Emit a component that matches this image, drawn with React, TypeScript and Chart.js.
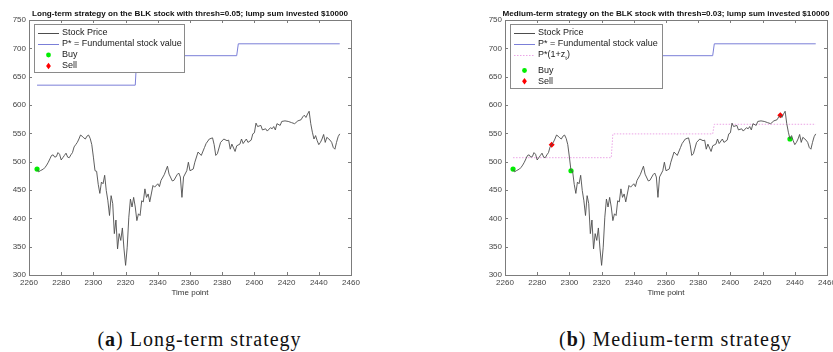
import React, { useEffect, useRef } from 'react';
import { Chart, registerables } from 'chart.js';
Chart.register(...registerables);

// ---------- data ----------
const TIMES = [
  2265, 2266, 2267, 2269, 2270, 2271, 2272, 2273, 2274, 2275, 2276, 2277, 2278, 2279, 2280,
  2281, 2282, 2283, 2284, 2285, 2286, 2287, 2288, 2289, 2290, 2291, 2292, 2293, 2294, 2295,
  2296, 2297, 2298, 2299, 2300, 2301, 2302, 2303, 2304, 2305, 2306, 2307, 2308, 2309, 2310,
  2311, 2312, 2313, 2314, 2315, 2316, 2317, 2318, 2319, 2320, 2321, 2322, 2323, 2324, 2325,
  2326, 2327, 2328, 2329, 2330, 2331, 2332, 2333, 2334, 2335, 2337, 2338, 2340, 2341, 2342,
  2344, 2346, 2347, 2349, 2350, 2352, 2353, 2354, 2355, 2356, 2358, 2359, 2360, 2362, 2363,
  2365, 2367, 2369, 2370, 2372, 2374, 2375, 2376, 2377, 2379, 2381, 2383, 2384, 2385, 2386,
  2388, 2389, 2391, 2392, 2393, 2395, 2396, 2398, 2399, 2400, 2401, 2402, 2404, 2405, 2407,
  2408, 2410, 2411, 2412, 2413, 2414, 2416, 2417, 2419, 2421, 2423, 2425, 2427, 2429, 2430,
  2431, 2432, 2433, 2434, 2435, 2436, 2437, 2438, 2439, 2440, 2441, 2442, 2443, 2444, 2445,
  2447, 2448, 2449, 2450, 2451, 2452, 2453,
];
const PRICES = [
  486, 482, 484, 487, 490, 494, 499, 505, 511, 512, 508, 509, 516, 513, 503,
  507, 511, 515, 508, 507, 512, 516, 526, 530, 534, 540, 547, 545, 542, 540,
  545, 547, 541, 530, 508, 484, 483, 460, 444, 464, 461, 476, 449, 431, 405,
  440, 426, 373, 397, 346, 373, 361, 383, 346, 317, 349, 402, 434, 420, 437,
  420, 396, 408, 405, 431, 429, 452, 437, 443, 429, 458, 455, 461, 456, 467,
  477, 492, 478, 466, 467, 477, 480, 473, 437, 473, 484, 499, 484, 487, 499,
  517, 511, 525, 532, 540, 542, 530, 511, 514, 534, 540, 537, 538, 522, 531,
  518, 528, 531, 540, 532, 540, 534, 538, 549, 551, 568, 562, 564, 556, 558,
  554, 560, 558, 562, 556, 567, 564, 571, 572, 571, 569, 567, 572, 574, 579,
  582, 578, 584, 589, 567, 552, 540, 546, 537, 530, 534, 540, 548, 534, 543,
  538, 534, 525, 522, 534, 544, 549,
];
const FUND_TIMES = [2265, 2326, 2327, 2389, 2390, 2453];
const FUND_VALUES = [635, 635, 687, 687, 708, 708];
const BAND_VALUES = [507, 507, 549, 549, 566, 566];

const LONG_BUY_T = [2265];
const LONG_BUY_V = [487];
const MED_BUY_T = [2265, 2301, 2437];
const MED_BUY_V = [487, 484, 540];
const MED_SELL_T = [2289, 2431];
const MED_SELL_V = [530, 582];

const X_TICKS = [2260, 2280, 2300, 2320, 2340, 2360, 2380, 2400, 2420, 2440, 2460];
const Y_TICKS = [300, 350, 400, 450, 500, 550, 600, 650, 700, 750];

const TITLE_LONG = 'Long-term strategy on the BLK stock with thresh=0.05; lump sum invested $10000';
const TITLE_MED = 'Medium-term strategy on the BLK stock with thresh=0.03; lump sum invested $10000';
const X_LABEL = 'Time point';
const LEGEND_PRICE = 'Stock Price';
const LEGEND_FUND = 'P* = Fundumental stock value';
const LEGEND_BAND = 'P*(1+z';
const LEGEND_BUY = 'Buy';
const LEGEND_SELL = 'Sell';
const CAPTION_A = 'Long-term strategy';
const CAPTION_B = 'Medium-term strategy';

// ---------- styles ----------
const PRICE_COLOR = '#4d4d4d';
const FUND_COLOR = '#7b7fd8';
const BAND_COLOR = '#eba5e6';
const BUY_COLOR = '#00ee00';
const SELL_COLOR = '#ff0000';
const FONT = '"Liberation Sans", Arial, Helvetica, sans-serif';

const pts = (ts: number[], vs: number[]) => ts.map((t, i) => ({ x: t, y: vs[i] }));

type LegendItem = { kind: 'line' | 'dot' | 'diamond' | 'dotted'; color: string; label: string; sub?: string; y: number };

function makeFramePlugin(title: string, legendBox: { x0: number; x1: number; y0: number; y1: number }, items: LegendItem[]) {
  return {
    id: 'frame',
    afterDraw(chart: any) {
      const ctx = chart.ctx as CanvasRenderingContext2D;
      const a = chart.chartArea;
      const xs = chart.scales.x;
      const ys = chart.scales.y;
      ctx.save();
      // box
      ctx.strokeStyle = '#7c7c7c';
      ctx.lineWidth = 1;
      ctx.strokeRect(Math.round(a.left) + 0.5, Math.round(a.top) + 0.5, Math.round(a.right - a.left), Math.round(a.bottom - a.top));
      // inward ticks
      ctx.beginPath();
      X_TICKS.forEach((v) => {
        const px = Math.round(xs.getPixelForValue(v)) + 0.5;
        ctx.moveTo(px, a.bottom);
        ctx.lineTo(px, a.bottom - 3);
        ctx.moveTo(px, a.top);
        ctx.lineTo(px, a.top + 3);
      });
      Y_TICKS.forEach((v) => {
        const py = Math.round(ys.getPixelForValue(v)) + 0.5;
        ctx.moveTo(a.left, py);
        ctx.lineTo(a.left + 3, py);
        ctx.moveTo(a.right, py);
        ctx.lineTo(a.right - 3, py);
      });
      ctx.stroke();

      // title
      ctx.fillStyle = '#111';
      ctx.font = `bold 8.1px ${FONT}`;
      ctx.textAlign = 'center';
      ctx.textBaseline = 'middle';
      ctx.fillText(title, (a.left + a.right) / 2, 14);

      // x label
      ctx.fillStyle = '#333';
      ctx.font = `8px ${FONT}`;
      ctx.fillText(X_LABEL, (a.left + a.right) / 2, 293);

      // legend
      const b = legendBox;
      ctx.fillStyle = '#fff';
      ctx.fillRect(b.x0, b.y0, b.x1 - b.x0, b.y1 - b.y0);
      ctx.strokeStyle = '#8a8a8a';
      ctx.lineWidth = 1;
      ctx.strokeRect(b.x0 + 0.5, b.y0 + 0.5, b.x1 - b.x0, b.y1 - b.y0);
      const sx0 = b.x0 + 4;
      const sx1 = b.x0 + 25;
      const tx = b.x0 + 28;
      items.forEach((it) => {
        const y = it.y;
        if (it.kind === 'line' || it.kind === 'dotted') {
          ctx.beginPath();
          ctx.strokeStyle = it.color;
          ctx.lineWidth = 1;
          ctx.setLineDash(it.kind === 'dotted' ? [1.5, 1.5] : []);
          ctx.moveTo(sx0, Math.round(y) + 0.5);
          ctx.lineTo(sx1, Math.round(y) + 0.5);
          ctx.stroke();
          ctx.setLineDash([]);
        } else if (it.kind === 'dot') {
          ctx.beginPath();
          ctx.fillStyle = it.color;
          ctx.arc((sx0 + sx1) / 2, y, 2.4, 0, Math.PI * 2);
          ctx.fill();
        } else {
          const cx = (sx0 + sx1) / 2;
          ctx.beginPath();
          ctx.fillStyle = it.color;
          ctx.moveTo(cx, y - 3.3);
          ctx.lineTo(cx + 2.4, y);
          ctx.lineTo(cx, y + 3.3);
          ctx.lineTo(cx - 2.4, y);
          ctx.closePath();
          ctx.fill();
        }
        ctx.fillStyle = '#1a1a1a';
        ctx.font = `9px ${FONT}`;
        ctx.textAlign = 'left';
        ctx.textBaseline = 'middle';
        ctx.fillText(it.label, tx, y);
        if (it.sub) {
          const w = ctx.measureText(it.label).width;
          ctx.font = `6px ${FONT}`;
          ctx.fillText(it.sub, tx + w, y + 3);
          const ws = ctx.measureText(it.sub).width;
          ctx.font = `9px ${FONT}`;
          ctx.fillText(')', tx + w + ws, y);
        }
      });
      ctx.restore();
    },
  };
}

function baseOptions() {
  return {
    responsive: false,
    animation: false as const,
    devicePixelRatio: 1,
    layout: { padding: { top: 20, right: 65, left: 0, bottom: 0 } },
    plugins: { legend: { display: false }, tooltip: { enabled: false }, title: { display: false } },
    elements: { line: { tension: 0 } },
    scales: {
      x: {
        type: 'linear' as const,
        min: 2260,
        max: 2460,
        afterFit: (s: any) => { s.height = 25; },
        afterBuildTicks: (s: any) => { s.ticks = X_TICKS.map((v) => ({ value: v })); },
        grid: { display: false, drawTicks: false },
        border: { display: false },
        ticks: {
          color: '#444', font: { size: 8, family: FONT }, padding: 3, maxRotation: 0, autoSkip: false,
          callback: (v: any) => String(v),
        },
      },
      y: {
        type: 'linear' as const,
        min: 300,
        max: 750,
        afterFit: (s: any) => { s.width = 29; },
        afterBuildTicks: (s: any) => { s.ticks = Y_TICKS.map((v) => ({ value: v })); },
        grid: { display: false, drawTicks: false },
        border: { display: false },
        ticks: {
          color: '#444', font: { size: 8, family: FONT }, padding: 3, autoSkip: false,
          callback: (v: any) => String(v),
        },
      },
    },
  };
}

const priceDs = () => ({
  label: LEGEND_PRICE,
  data: pts(TIMES, PRICES),
  borderColor: PRICE_COLOR,
  borderWidth: 0.9,
  pointRadius: 0,
  fill: false,
});
const fundDs = () => ({
  label: LEGEND_FUND,
  data: pts(FUND_TIMES, FUND_VALUES),
  borderColor: FUND_COLOR,
  borderWidth: 1,
  pointRadius: 0,
  fill: false,
});

function ChartPanel({ kind }: { kind: 'long' | 'med' }) {
  const ref = useRef<HTMLCanvasElement | null>(null);
  useEffect(() => {
    if (!ref.current) return;
    const datasets: any[] = [];
    if (kind === 'long') {
      datasets.push(priceDs(), fundDs());
      datasets.push({
        label: LEGEND_BUY, data: pts(LONG_BUY_T, LONG_BUY_V), showLine: false,
        pointRadius: 2.6, pointBackgroundColor: BUY_COLOR, pointBorderColor: BUY_COLOR, pointBorderWidth: 0,
      });
    } else {
      datasets.push(priceDs(), fundDs());
      datasets.push({
        label: 'P*(1+z_t)', data: pts(FUND_TIMES, BAND_VALUES), borderColor: BAND_COLOR,
        borderWidth: 1, borderDash: [1.5, 1.5], pointRadius: 0, fill: false,
      });
      datasets.push({
        label: LEGEND_BUY, data: pts(MED_BUY_T, MED_BUY_V), showLine: false,
        pointRadius: 2.6, pointBackgroundColor: BUY_COLOR, pointBorderColor: BUY_COLOR, pointBorderWidth: 0,
      });
      datasets.push({
        label: LEGEND_SELL, data: pts(MED_SELL_T, MED_SELL_V), showLine: false, pointStyle: 'rectRot',
        pointRadius: 3, pointBackgroundColor: SELL_COLOR, pointBorderColor: SELL_COLOR, pointBorderWidth: 0,
      });
    }
    const plugin = kind === 'long'
      ? makeFramePlugin(TITLE_LONG, { x0: 34, x1: 184, y0: 24, y1: 72 }, [
          { kind: 'line', color: PRICE_COLOR, label: LEGEND_PRICE, y: 32.5 },
          { kind: 'line', color: FUND_COLOR, label: LEGEND_FUND, y: 43.8 },
          { kind: 'dot', color: BUY_COLOR, label: LEGEND_BUY, y: 55 },
          { kind: 'diamond', color: SELL_COLOR, label: LEGEND_SELL, y: 66 },
        ])
      : makeFramePlugin(TITLE_MED, { x0: 34, x1: 186, y0: 24, y1: 88 }, [
          { kind: 'line', color: PRICE_COLOR, label: LEGEND_PRICE, y: 33 },
          { kind: 'line', color: FUND_COLOR, label: LEGEND_FUND, y: 44 },
          { kind: 'dotted', color: BAND_COLOR, label: LEGEND_BAND, sub: 't', y: 55 },
          { kind: 'dot', color: BUY_COLOR, label: LEGEND_BUY, y: 70.5 },
          { kind: 'diamond', color: SELL_COLOR, label: LEGEND_SELL, y: 81.3 },
        ]);
    const chart = new Chart(ref.current, {
      type: 'line',
      data: { datasets },
      options: baseOptions() as any,
      plugins: [plugin],
    });
    return () => chart.destroy();
  }, [kind]);
  return <canvas ref={ref} width={416} height={300} style={{ display: 'block', width: 416, height: 300 }} />;
}

export default function App() {
  const captionStyle: React.CSSProperties = {
    position: 'absolute',
    top: 328,
    width: 399,
    textAlign: 'center',
    fontFamily: '"Liberation Serif", "Times New Roman", serif',
    fontSize: 20,
    lineHeight: '22px',
    letterSpacing: '1px',
    color: '#111',
    whiteSpace: 'nowrap',
  };
  return (
    <div style={{ position: 'absolute', left: 0, top: 0, width: 833, height: 352, overflow: 'hidden', background: '#fff' }}>
      <div style={{ position: 'absolute', left: 0, top: 0 }}>
        <ChartPanel kind="long" />
      </div>
      <div style={{ position: 'absolute', left: 476, top: 0 }}>
        <ChartPanel kind="med" />
      </div>
      <div style={{ ...captionStyle, left: 0 }}>
        (<b>a</b>) {CAPTION_A}
      </div>
      <div style={{ ...captionStyle, left: 476 }}>
        (<b>b</b>) {CAPTION_B}
      </div>
    </div>
  );
}
